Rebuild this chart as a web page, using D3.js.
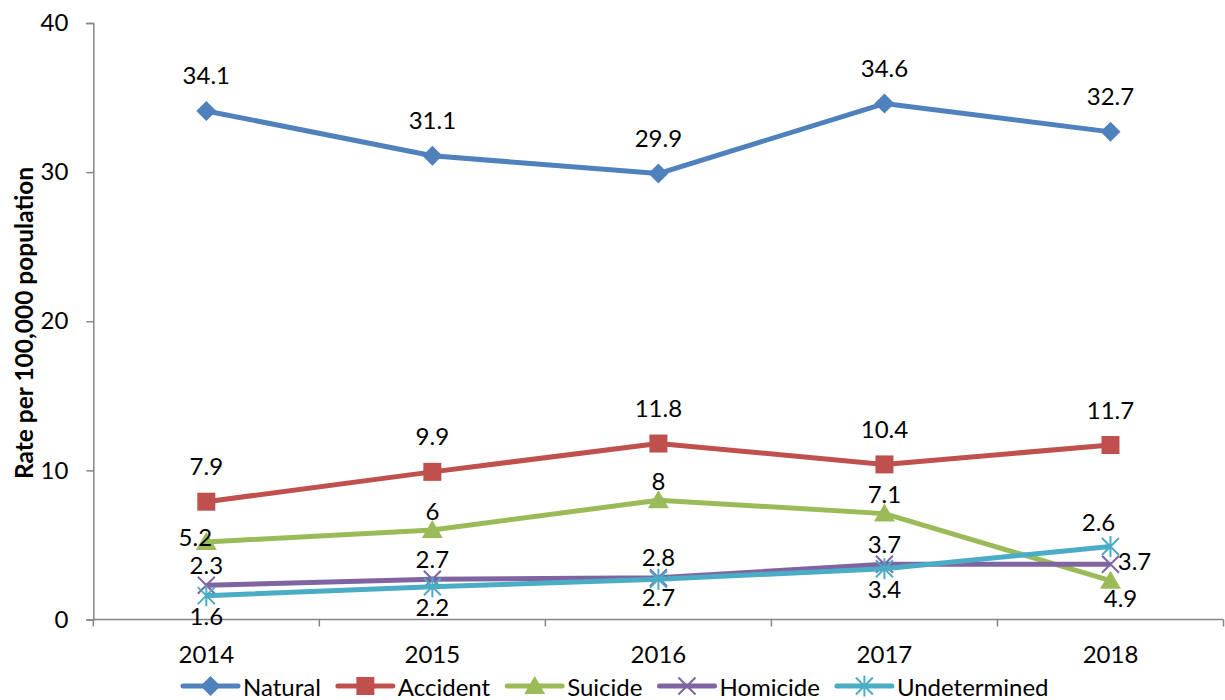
<!DOCTYPE html>
<html>
<head>
<meta charset="utf-8">
<script src="https://cdn.jsdelivr.net/npm/d3@7"></script>
<style>
  html, body { margin: 0; padding: 0; background: #fff; }
  svg { display: block; font-family: Lato, "Open Sans", sans-serif; }
</style>
</head>
<body>
<svg id="chart" width="1225" height="700"></svg>
<script>
// ---- data ----
const years = ["2014", "2015", "2016", "2017", "2018"];
const natural = [34.1, 31.1, 29.9, 34.6, 32.7];
const accident = [7.9, 9.9, 11.8, 10.4, 11.7];
const suicide = [5.2, 6, 8, 7.1, 2.6];
const homicide = [2.3, 2.7, 2.8, 3.7, 3.7];
const undetermined = [1.6, 2.2, 2.7, 3.4, 4.9];
const seriesNames = ["Natural", "Accident", "Suicide", "Homicide", "Undetermined"];
const yTicks = [0, 10, 20, 30, 40];
const yTitle = "Rate per 100,000 population";

// ---- styling / layout ----
const colors = ["#4F81BD", "#C0504D", "#9BBB59", "#8064A2", "#4BACC6"];
const markers = ["diamond", "square", "triangle", "x", "star"];
const seriesValues = [natural, accident, suicide, homicide, undetermined];
const fs = 24;
// label placement (offsets from point, in px)
const labelDefault = [
  {dx: 0, dy: -36}, {dx: 0, dy: -36}, {dx: 0, dy: -20}, {dx: 0, dy: -21}, {dx: 0, dy: 20}
];
const labelOverride = {
  "2-0": {dx: -11, dy: -5},
  "2-4": {dx: -12, dy: -59},
  "3-4": {dx: 24, dy: -4},
  "4-4": {dx: 10, dy: 51},
  "4-2": {dx: 0, dy: 17}
};

const svg = d3.select("#chart");
const mLeft = 93.3, mRight = 1223.5, mTop = 23, mBottom = 619.5;

const x = d3.scaleBand().domain(years).range([mLeft, mRight]).padding(0);
const y = d3.scaleLinear().domain([0, 40]).range([mBottom, mTop]);
const cx = d => x(d) + x.bandwidth() / 2;

const axisColor = "#868686";

// y axis
const yAxis = d3.axisLeft(y).tickValues(yTicks).tickSize(7).tickPadding(18).tickFormat(d3.format("d"));
const gy = svg.append("g").attr("transform", `translate(${mLeft},0)`).call(yAxis);
gy.select(".domain").attr("stroke", axisColor).attr("stroke-width", 1.5);
gy.selectAll(".tick line").attr("stroke", axisColor).attr("stroke-width", 1.5);
gy.selectAll(".tick text").attr("font-size", fs).attr("fill", "#000").attr("font-family", "Lato");

// x axis (ticks at category boundaries)
const gx = svg.append("g").attr("transform", `translate(0,${mBottom})`);
gx.append("line").attr("x1", mLeft).attr("x2", mRight).attr("y1", 0).attr("y2", 0)
  .attr("stroke", axisColor).attr("stroke-width", 1.5);
const bounds = years.map(d => x(d)).concat([mRight]);
gx.selectAll("line.tk").data(bounds).enter().append("line").attr("class", "tk")
  .attr("x1", d => d).attr("x2", d => d).attr("y1", 0).attr("y2", 7)
  .attr("stroke", axisColor).attr("stroke-width", 1.5);
gx.selectAll("text").data(years).enter().append("text")
  .attr("x", d => cx(d)).attr("y", 34).attr("text-anchor", "middle")
  .attr("dominant-baseline", "central").attr("font-size", fs).attr("fill", "#000")
  .text(d => d);

// y title
svg.append("text")
  .attr("transform", `translate(23,${(163 + 483) / 2}) rotate(-90)`)
  .attr("text-anchor", "middle").attr("dominant-baseline", "central")
  .attr("font-size", 24.5).attr("font-weight", "bold").attr("fill", "#000")
  .text(yTitle);

// marker drawing
function drawMarker(g, type, color, px, py) {
  const s = 9.5;
  if (type === "diamond") {
    g.append("path").attr("d", `M${px},${py - s - 0.5}L${px + s + 0.5},${py}L${px},${py + s + 0.5}L${px - s - 0.5},${py}Z`).attr("fill", color);
  } else if (type === "square") {
    g.append("rect").attr("x", px - 9).attr("y", py - 9).attr("width", 18).attr("height", 18).attr("fill", color);
  } else if (type === "triangle") {
    g.append("path").attr("d", `M${px},${py - 10}L${px + 10.5},${py + 8}L${px - 10.5},${py + 8}Z`).attr("fill", color);
  } else if (type === "x") {
    const k = 8.5;
    g.append("path").attr("d", `M${px - k},${py - k}L${px + k},${py + k}M${px - k},${py + k}L${px + k},${py - k}`)
      .attr("stroke", color).attr("stroke-width", 2).attr("fill", "none");
  } else if (type === "star") {
    const k = 8.5;
    g.append("path").attr("d", `M${px - k},${py - k}L${px + k},${py + k}M${px - k},${py + k}L${px + k},${py - k}M${px},${py - k - 2}L${px},${py + k + 2}`)
      .attr("stroke", color).attr("stroke-width", 2).attr("fill", "none");
  }
}

const line = d3.line().x((d, i) => cx(years[i])).y(d => y(d));

seriesValues.forEach((vals, si) => {
  const g = svg.append("g");
  g.append("path").datum(vals).attr("d", line).attr("fill", "none")
    .attr("stroke", colors[si]).attr("stroke-width", 5).attr("stroke-linejoin", "round");
  vals.forEach((v, i) => drawMarker(g, markers[si], colors[si], cx(years[i]), y(v)));
});

// labels on top
seriesValues.forEach((vals, si) => {
  vals.forEach((v, i) => {
    const o = labelOverride[si + "-" + i] || labelDefault[si];
    svg.append("text")
      .attr("x", cx(years[i]) + o.dx).attr("y", y(v) + o.dy)
      .attr("text-anchor", "middle").attr("dominant-baseline", "central")
      .attr("font-size", fs).attr("fill", "#000")
      .text(String(v));
  });
});

// legend
const lg = svg.append("g");
let lx = 183;
const ly = 686;
seriesNames.forEach((name, si) => {
  const g = lg.append("g");
  g.append("line").attr("x1", lx).attr("x2", lx + 55).attr("y1", ly).attr("y2", ly)
    .attr("stroke", colors[si]).attr("stroke-width", 5).attr("stroke-linecap", "round");
  drawMarker(g, markers[si], colors[si], lx + 27.5, ly);
  const t = g.append("text").attr("x", lx + 60).attr("y", ly).attr("dominant-baseline", "central")
    .attr("font-size", fs).attr("fill", "#000").text(name);
  lx += 60 + t.node().getComputedTextLength() + 17;
});
</script>
</body>
</html>
